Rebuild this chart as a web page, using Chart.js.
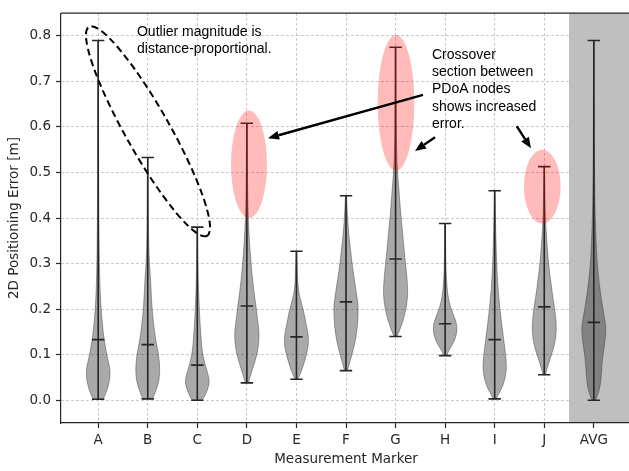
<!DOCTYPE html>
<html>
<head>
<meta charset="utf-8">
<script src="https://cdn.jsdelivr.net/npm/chart.js@4.4.1/dist/chart.umd.min.js"></script>
<style>
  html, body { margin: 0; padding: 0; background: #fff; overflow: hidden; }
  #wrap { width: 632px; height: 471px; }
</style>
</head>
<body>
<div id="wrap"><canvas id="violin-chart" width="632" height="471"></canvas></div>
<script>
// categories + tick values
const markers = ['A', 'B', 'C', 'D', 'E', 'F', 'G', 'H', 'I', 'J', 'AVG']
const yTicks = [0, 0.1, 0.2, 0.3, 0.4, 0.5, 0.6, 0.7, 0.8]

// whisker extremes and medians per marker
const minValues = [0.002, 0.003, 0.0, 0.038, 0.046, 0.065, 0.14, 0.098, 0.003, 0.056, 0.0]
const maxValues = [0.79, 0.533, 0.38, 0.608, 0.327, 0.449, 0.775, 0.388, 0.46, 0.513, 0.79]
const medianValues = [0.133, 0.122, 0.077, 0.207, 0.139, 0.216, 0.31, 0.168, 0.133, 0.205, 0.171]

// density profiles: [error, relative density]
const profileA = [[0.002,0.4],[0.015,0.65],[0.04,0.93],[0.065,1.0],[0.087,0.82],[0.115,0.6],[0.145,0.43],[0.175,0.32],[0.2,0.24],[0.24,0.16],[0.3,0.1],[0.4,0.06],[0.5,0.04],[0.65,0.03],[0.79,0.02]]
const profileB = [[0.003,0.4],[0.015,0.6],[0.043,0.95],[0.072,1.0],[0.101,0.89],[0.13,0.67],[0.159,0.52],[0.188,0.4],[0.216,0.32],[0.245,0.27],[0.274,0.21],[0.303,0.13],[0.35,0.07],[0.43,0.04],[0.533,0.02]]
const profileC = [[0.0,0.4],[0.011,0.68],[0.036,1.0],[0.05,0.95],[0.065,0.79],[0.087,0.55],[0.108,0.4],[0.13,0.33],[0.159,0.25],[0.188,0.19],[0.224,0.13],[0.26,0.08],[0.32,0.04],[0.38,0.02]]
const profileD = [[0.038,0.12],[0.05,0.25],[0.072,0.51],[0.101,0.85],[0.13,1.0],[0.152,1.0],[0.173,0.9],[0.202,0.77],[0.231,0.62],[0.26,0.49],[0.289,0.38],[0.318,0.3],[0.346,0.22],[0.375,0.16],[0.404,0.11],[0.45,0.07],[0.52,0.04],[0.608,0.02]]
const profileE = [[0.046,0.12],[0.054,0.25],[0.072,0.52],[0.094,0.76],[0.115,0.95],[0.13,1.0],[0.148,0.95],[0.166,0.8],[0.188,0.65],[0.209,0.46],[0.227,0.27],[0.245,0.15],[0.274,0.08],[0.327,0.03]]
const profileF = [[0.065,0.12],[0.076,0.23],[0.101,0.5],[0.13,0.77],[0.159,0.93],[0.188,1.0],[0.209,1.0],[0.231,0.88],[0.26,0.72],[0.289,0.55],[0.318,0.43],[0.346,0.3],[0.375,0.2],[0.404,0.12],[0.449,0.04]]
const profileG = [[0.14,0.12],[0.148,0.25],[0.173,0.61],[0.202,0.87],[0.224,0.98],[0.245,1.0],[0.274,0.92],[0.303,0.81],[0.332,0.7],[0.361,0.6],[0.39,0.5],[0.418,0.4],[0.447,0.32],[0.476,0.24],[0.5,0.16],[0.55,0.08],[0.65,0.04],[0.775,0.02]]
const profileH = [[0.098,0.12],[0.108,0.27],[0.123,0.62],[0.137,0.86],[0.155,1.0],[0.17,0.92],[0.184,0.74],[0.198,0.53],[0.216,0.32],[0.238,0.19],[0.267,0.11],[0.3,0.06],[0.388,0.02]]
const profileI = [[0.003,0.12],[0.011,0.27],[0.029,0.64],[0.05,0.88],[0.072,0.98],[0.094,0.92],[0.115,0.83],[0.144,0.69],[0.173,0.55],[0.202,0.43],[0.231,0.32],[0.26,0.24],[0.303,0.16],[0.346,0.11],[0.4,0.06],[0.46,0.02]]
const profileJ = [[0.056,0.1],[0.069,0.22],[0.087,0.43],[0.115,0.78],[0.137,0.95],[0.159,1.0],[0.18,0.95],[0.202,0.85],[0.231,0.68],[0.26,0.54],[0.289,0.4],[0.318,0.3],[0.346,0.22],[0.375,0.15],[0.397,0.1],[0.45,0.05],[0.513,0.02]]
const profileAVG = [[0.0,0.15],[0.011,0.32],[0.029,0.51],[0.05,0.61],[0.072,0.65],[0.094,0.73],[0.115,0.84],[0.141,0.97],[0.159,1.0],[0.18,0.88],[0.202,0.74],[0.231,0.57],[0.26,0.43],[0.289,0.32],[0.318,0.24],[0.346,0.19],[0.375,0.15],[0.404,0.11],[0.447,0.08],[0.55,0.04],[0.79,0.02]]
const profiles = [profileA, profileB, profileC, profileD, profileE, profileF, profileG, profileH, profileI, profileJ, profileAVG]

const VIOLIN_HALF = 0.245   // max half width in category units
const CAP_HALF = 0.125
const TEXT_FONT = '14px "Liberation Sans", Arial, sans-serif'
const AXIS_FONT = { family: 'DejaVu Sans', size: 13.5 }

// smooth path through a list of pixel points
function smoothThrough(ctx, pts) {
    ctx.lineTo(pts[0][0], pts[0][1])
    for (let i = 1; i < pts.length - 1; i++) {
        const mx = (pts[i][0] + pts[i + 1][0]) / 2
        const my = (pts[i][1] + pts[i + 1][1]) / 2
        ctx.quadraticCurveTo(pts[i][0], pts[i][1], mx, my)
    }
    const last = pts[pts.length - 1]
    ctx.lineTo(last[0], last[1])
}

function drawArrow(ctx, x1, y1, x2, y2) {
    const ang = Math.atan2(y2 - y1, x2 - x1)
    const len = 11, hw = 4.5
    const bx = x2 - len * Math.cos(ang), by = y2 - len * Math.sin(ang)
    ctx.strokeStyle = '#000'
    ctx.lineWidth = 2.4
    ctx.beginPath()
    ctx.moveTo(x1, y1)
    ctx.lineTo(bx, by)
    ctx.stroke()
    ctx.fillStyle = '#000'
    ctx.beginPath()
    ctx.moveTo(x2, y2)
    ctx.lineTo(bx + hw * Math.sin(ang), by - hw * Math.cos(ang))
    ctx.lineTo(bx - hw * Math.sin(ang), by + hw * Math.cos(ang))
    ctx.closePath()
    ctx.fill()
}

const violinPlugin = {
    id: 'violins',
    beforeDraw(chart) {
        const { ctx, chartArea, scales } = chart
        const left = scales.x.getPixelForValue(markers.length - 0.5)
        ctx.save()
        ctx.fillStyle = '#bfbfbf'
        ctx.fillRect(left, chartArea.top, chartArea.right - left, chartArea.bottom - chartArea.top)
        ctx.restore()
    },
    afterDatasetsDraw(chart) {
        const { ctx, chartArea, scales } = chart
        const x = scales.x, y = scales.y
        ctx.save()

        // violin bodies
        profiles.forEach((profile, i) => {
            const pos = i + 1
            const right = profile.map(p => [x.getPixelForValue(pos + p[1] * VIOLIN_HALF), y.getPixelForValue(p[0])])
            const left = profile.map(p => [x.getPixelForValue(pos - p[1] * VIOLIN_HALF), y.getPixelForValue(p[0])]).reverse()
            ctx.beginPath()
            ctx.moveTo(left[left.length - 1][0], left[left.length - 1][1])
            smoothThrough(ctx, right)
            smoothThrough(ctx, left)
            ctx.closePath()
            ctx.fillStyle = 'rgba(40, 40, 40, 0.4)'
            ctx.fill()
            ctx.strokeStyle = 'rgba(40, 40, 40, 0.4)'
            ctx.lineWidth = 1
            ctx.stroke()
        })

        // whiskers, caps, medians
        ctx.strokeStyle = '#262626'
        ctx.lineWidth = 1.6
        markers.forEach((m, i) => {
            const pos = i + 1
            const cx = x.getPixelForValue(pos)
            const cl = x.getPixelForValue(pos - CAP_HALF)
            const cr = x.getPixelForValue(pos + CAP_HALF)
            ctx.beginPath()
            ctx.moveTo(cx, y.getPixelForValue(minValues[i]))
            ctx.lineTo(cx, y.getPixelForValue(maxValues[i]))
            ;[minValues[i], maxValues[i], medianValues[i]].forEach(v => {
                const py = y.getPixelForValue(v)
                ctx.moveTo(cl, py)
                ctx.lineTo(cr, py)
            })
            ctx.stroke()
        })

        // highlighted regions
        const highlights = [[4.043, 0.518, 0.363, 0.118], [7.009, 0.653, 0.37, 0.149], [9.96, 0.469, 0.37, 0.081]]
        ctx.fillStyle = 'rgba(255, 0, 0, 0.27)'
        highlights.forEach(h => {
            const cx = x.getPixelForValue(h[0]), cy = y.getPixelForValue(h[1])
            const rx = Math.abs(x.getPixelForValue(h[0] + h[2]) - cx)
            const ry = Math.abs(y.getPixelForValue(h[1] + h[3]) - cy)
            ctx.beginPath()
            ctx.ellipse(cx, cy, rx, ry, 0, 0, Math.PI * 2)
            ctx.fill()
        })

        // dashed outlier ellipse, given by the ends of its long axis
        const ax1 = x.getPixelForValue(0.815), ay1 = y.getPixelForValue(0.82)
        const ax2 = x.getPixelForValue(3.196), ay2 = y.getPixelForValue(0.361)
        ctx.strokeStyle = '#000'
        ctx.lineWidth = 2
        ctx.setLineDash([7, 4])
        ctx.beginPath()
        ctx.ellipse((ax1 + ax2) / 2, (ay1 + ay2) / 2, Math.hypot(ax2 - ax1, ay2 - ay1) / 2, 22,
            Math.atan2(ay2 - ay1, ax2 - ax1), 0, Math.PI * 2)
        ctx.stroke()
        ctx.setLineDash([])

        // arrows
        const arrows = [[7.554, 0.6705, 4.426, 0.5753], [7.796, 0.5774, 7.392, 0.5472], [9.444, 0.602, 9.732, 0.553]]
        arrows.forEach(a => drawArrow(ctx, x.getPixelForValue(a[0]), y.getPixelForValue(a[1]),
            x.getPixelForValue(a[2]), y.getPixelForValue(a[3])))

        // notes
        ctx.fillStyle = '#000'
        ctx.font = TEXT_FONT
        ctx.textBaseline = 'middle'
        ctx.textAlign = 'left'
        const noteA = ['Outlier magnitude is', 'distance-proportional.']
        noteA.forEach((t, k) => ctx.fillText(t, x.getPixelForValue(1.783), y.getPixelForValue(0.8075) + k * 16.6))
        const noteB = ['Crossover', 'section between', 'PDoA nodes', 'shows increased', 'error.']
        noteB.forEach((t, k) => ctx.fillText(t, x.getPixelForValue(7.735), y.getPixelForValue(0.7585) + k * 17.4))

        // top spine
        ctx.strokeStyle = '#262626'
        ctx.lineWidth = 1.2
        ctx.beginPath()
        ctx.moveTo(chartArea.left, chartArea.top)
        ctx.lineTo(chartArea.right, chartArea.top)
        ctx.stroke()
        ctx.restore()
    }
}

const gridStyle = { color: '#c2c2c2', lineWidth: 1, tickColor: '#262626', tickLength: 5, tickWidth: 1.2, tickBorderDash: [] }
const borderStyle = { display: true, color: '#262626', width: 1.2, dash: [2.5, 2.5] }

new Chart(document.querySelector('#violin-chart').getContext('2d'), {
    type: 'scatter',
    data: { datasets: [] },
    options: {
        responsive: false,
        animation: false,
        layout: { padding: { top: 7, right: 1, left: 0, bottom: 0 } },
        plugins: { legend: { display: false }, tooltip: { enabled: false } },
        scales: {
            x: {
                type: 'linear',
                min: 0.25,
                max: 11.75,
                afterBuildTicks: axis => { axis.ticks = markers.map((m, i) => ({ value: i + 1 })) },
                afterFit: axis => { axis.height = 48 },
                ticks: { callback: (v, i) => markers[i], font: AXIS_FONT, color: '#262626', padding: 4, maxRotation: 0, autoSkip: false },
                grid: gridStyle,
                border: borderStyle,
                title: { display: true, text: 'Measurement Marker', font: AXIS_FONT, color: '#262626', padding: { top: 0, bottom: 3 } }
            },
            y: {
                min: -0.05,
                max: 0.85,
                afterBuildTicks: axis => { axis.ticks = yTicks.map(v => ({ value: v })) },
                afterFit: axis => { axis.width = 61 },
                ticks: { callback: v => v.toFixed(1), font: AXIS_FONT, color: '#262626', padding: 5 },
                grid: gridStyle,
                border: borderStyle,
                title: { display: true, text: '2D Positioning Error [m]', font: AXIS_FONT, color: '#262626', padding: { top: 6, bottom: 0 } }
            }
        }
    },
    plugins: [violinPlugin]
})
</script>
</body>
</html>
